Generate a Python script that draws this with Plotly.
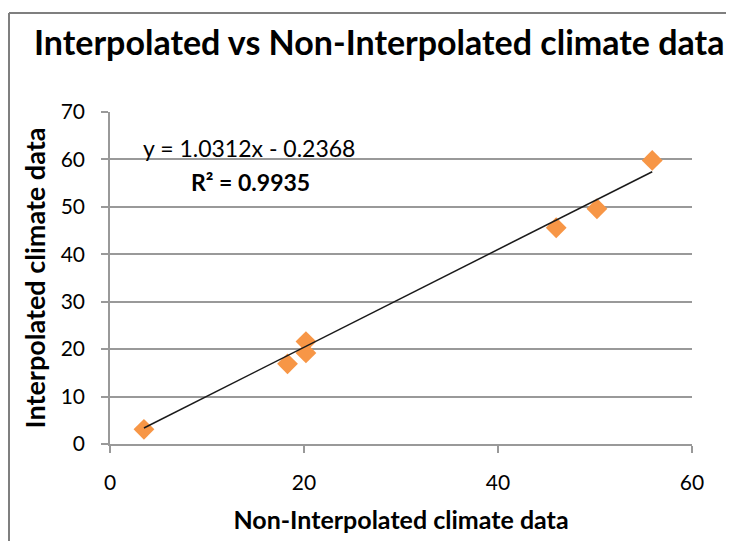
import plotly.graph_objects as go

# Data
non_interp = [3.5, 18.3, 20.2, 20.2, 46.0, 50.2, 55.9]
interp = [3.1, 16.9, 21.6, 19.2, 45.6, 49.6, 59.8]
slope = 1.0312
intercept = -0.2368
r_squared = 0.9935
x_ticks = [0, 20, 40, 60]
y_ticks = [0, 10, 20, 30, 40, 50, 60, 70]

FONT = "Lato, sans-serif"

x_min, x_max = min(non_interp), max(non_interp)
trend_x = [x_min, x_max]
trend_y = [slope * v + intercept for v in trend_x]

fig = go.Figure()
fig.add_trace(go.Scatter(
    x=non_interp, y=interp, mode="markers",
    marker=dict(symbol="diamond", size=16, color="#F79646", line=dict(width=0)),
    showlegend=False, hoverinfo="x+y",
))
fig.add_trace(go.Scatter(
    x=trend_x, y=trend_y, mode="lines",
    line=dict(color="#1a1a1a", width=1.5),
    showlegend=False, hoverinfo="skip",
))

OFF = 8  # page body margin
W, H = 734 - 2 * OFF, 549 - 2 * OFF
L, T = 110 - OFF, 112 - OFF
pw, ph = 582, 332
R, B = W - L - pw, H - T - ph

def px(xp):
    return (xp - OFF - L) / pw

def py(yp):
    return (T + ph - (yp - OFF)) / ph

GRID = "#999999"
BORDER = "#7f7f7f"

fig.update_layout(
    width=W, height=H,
    margin=dict(l=L, r=R, t=T, b=B),
    paper_bgcolor="white", plot_bgcolor="white",
    font=dict(family=FONT, color="#000000", size=20),
    xaxis=dict(
        range=[0, 60], tickvals=x_ticks, showgrid=False, zeroline=False,
        showline=True, linecolor=GRID, linewidth=1.5,
        ticks="outside", ticklen=7, tickcolor=GRID, tickwidth=1.5,
        ticklabelstandoff=12,
        tickfont=dict(size=21, family=FONT),
        title=dict(text="<b>Non-Interpolated climate data</b>", font=dict(size=25, family=FONT), standoff=19),
    ),
    yaxis=dict(
        range=[0, 70], tickvals=y_ticks, showgrid=True, gridcolor=GRID, gridwidth=1.5,
        zeroline=False, showline=True, linecolor=GRID, linewidth=1.5,
        ticks="outside", ticklen=7, tickcolor=GRID, tickwidth=1.5,
        ticklabelstandoff=12,
        tickfont=dict(size=21, family=FONT),
        title=dict(text="<b>Interpolated climate data</b>", font=dict(size=27, family=FONT), standoff=7),
    ),
    shapes=[
        dict(type="line", xref="paper", yref="paper",
             x0=px(9), x1=px(760), y0=py(13), y1=py(13),
             line=dict(color=BORDER, width=2), layer="below"),
        dict(type="line", xref="paper", yref="paper",
             x0=px(9), x1=px(9), y0=py(13), y1=py(580),
             line=dict(color=BORDER, width=2), layer="below"),
    ],
    annotations=[
        dict(text="<b>Interpolated vs Non-Interpolated climate data</b>",
             xref="paper", yref="paper", x=px(379), y=py(41), showarrow=False,
             xanchor="center", yanchor="middle", font=dict(size=34, family=FONT)),
        dict(text=f"y = {slope}x - {abs(intercept)}",
             xref="paper", yref="paper", x=px(249), y=py(148), showarrow=False,
             xanchor="center", yanchor="middle", font=dict(size=23, family=FONT)),
        dict(text=f"<b>R² = {r_squared}</b>",
             xref="paper", yref="paper", x=px(250), y=py(182), showarrow=False,
             xanchor="center", yanchor="middle", font=dict(size=23, family=FONT)),
    ],
)

fig.write_html("out.html")
